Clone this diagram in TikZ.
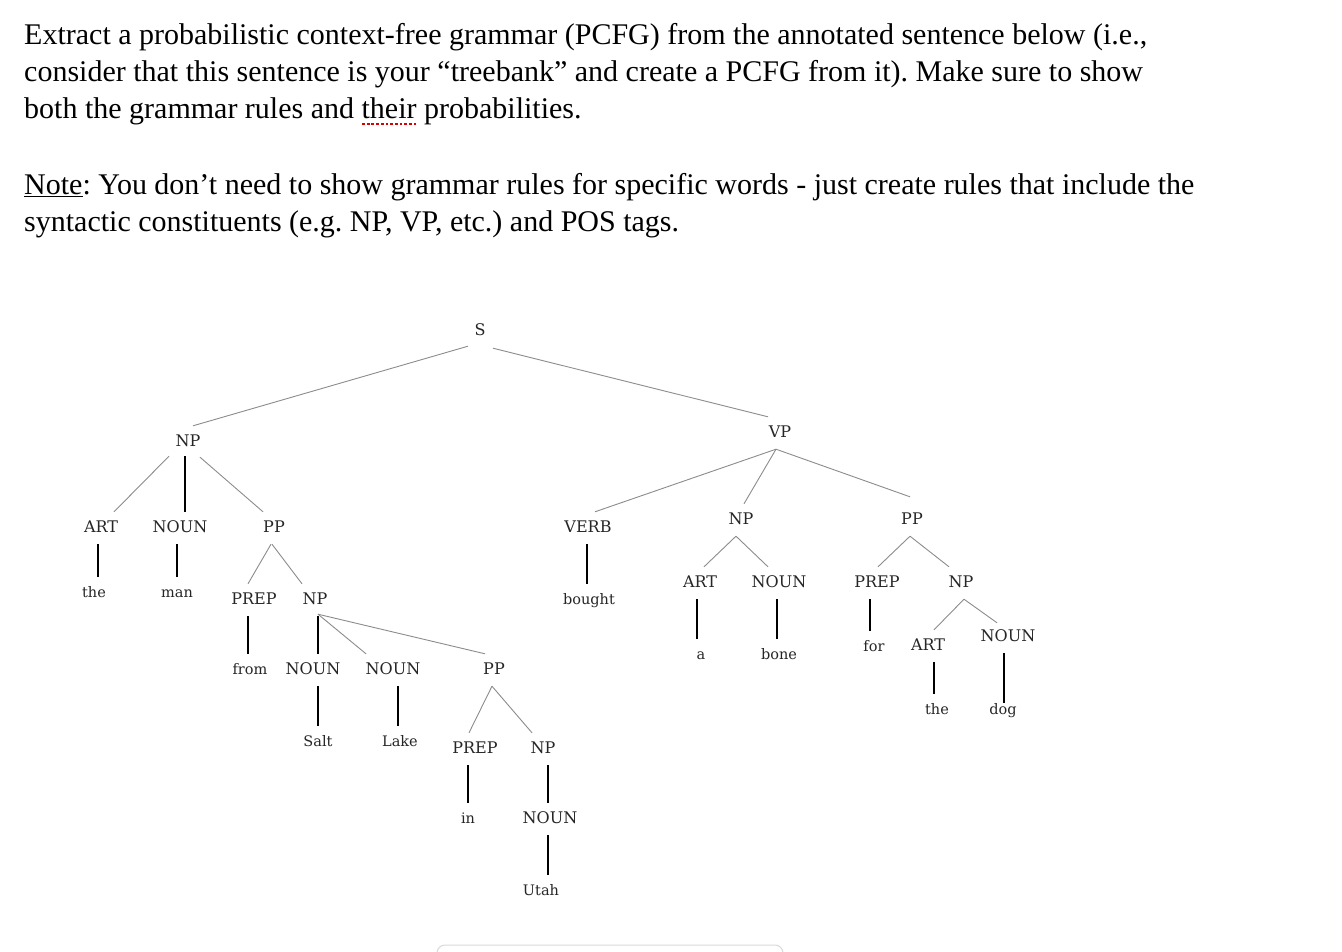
\documentclass[tikz,border=0pt]{standalone}
\usepackage{fontspec}
\setmainfont{Liberation Serif}
\newfontfamily\treefont{DejaVu Serif}
\usetikzlibrary{calc}
\newcommand\vconn[4]{\draw[vline] ($(#1.south)+(#3,0)$) -- ($(#1.south |- #2.north)+(#3,#4)$);}
\begin{document}
\frenchspacing
\begin{tikzpicture}[x=1pt,y=-1pt,
  lab/.style={font=\treefont\fontsize{16}{16}\selectfont, text height=12pt, text depth=3pt, inner xsep=0pt, inner ysep=8.5pt, text=black!85},
  wrd/.style={lab, font=\treefont\fontsize{14.5}{14.5}\selectfont},
  dline/.style={draw=black!45, line width=0.9pt},
  vline/.style={draw=black, line width=1.3pt},
  para/.style={anchor=base west, inner sep=0pt, font=\fontsize{30}{37.5}\selectfont}]
\fill[white] (0,0) rectangle (1342,952);
\useasboundingbox (0,0) rectangle (1342,952);

% question text
\node[para] (l1) at (24,45) {Extract a probabilistic context-free grammar (PCFG) from the annotated sentence below (i.e.,};
\node[para] (l2) at (24,82) {consider that this sentence is your “treebank” and create a PCFG from it). Make sure to show};
\node[para] (l3) at (24,119) {both the grammar rules and their probabilities.};
\node[para] (l4) at (24,195) {\underline{Note}: You don’t need to show grammar rules for specific words - just create rules that include the};
\node[para] (l5) at (24,232) {syntactic constituents (e.g. NP, VP, etc.) and POS tags.};
\draw[red!85!black, line width=2.8pt, dash pattern=on 2.8pt off 1.9pt] (362,124) -- (416,124);

% tree nodes
\node[lab] (S) at (480,331) {S};
\node[lab] (NPa) at (188,442) {NP};
\node[lab] (VP) at (780,433) {VP};
\node[lab] (ARTa) at (101,528) {ART};
\node[lab] (NOUNa) at (180,528) {NOUN};
\node[lab] (PPa) at (274,528) {PP};
\node[wrd] (the1) at (94,593) {the};
\node[wrd] (man) at (177,593) {man};
\node[lab] (PREPa) at (254,600) {PREP};
\node[lab] (NPb) at (315,600) {NP};
\node[wrd] (from) at (250,670) {from};
\node[lab] (NOUNb) at (313,670) {NOUN};
\node[lab] (NOUNc) at (393,670) {NOUN};
\node[lab] (PPb) at (494,670) {PP};
\node[wrd] (Salt) at (318,742) {Salt};
\node[wrd] (Lake) at (400,742) {Lake};
\node[lab] (PREPb) at (475,749) {PREP};
\node[lab] (NPc) at (543,749) {NP};
\node[wrd] (in) at (468,819) {in};
\node[lab] (NOUNd) at (550,819) {NOUN};
\node[wrd] (Utah) at (541,891) {Utah};
\node[lab] (VERB) at (588,528) {VERB};
\node[wrd] (bought) at (589,600) {bought};
\node[lab] (NPd) at (741,520) {NP};
\node[lab] (PPc) at (912,520) {PP};
\node[lab] (ARTb) at (700,583) {ART};
\node[lab] (NOUNe) at (779,583) {NOUN};
\node[lab] (PREPc) at (877,583) {PREP};
\node[lab] (NPe) at (961,583) {NP};
\node[wrd] (a) at (701,655) {a};
\node[wrd] (bone) at (779,655) {bone};
\node[wrd] (for) at (874,647) {for};
\node[lab] (ARTc) at (928,646) {ART};
\node[lab] (NOUNf) at (1008,637) {NOUN};
\node[wrd] (the2) at (937,710) {the};
\node[wrd] (dog) at (1003,710) {dog};

% diagonal connectors
\draw[dline] ($(S.south)+(-12,-1)$) -- ($(NPa.north)+(5,0)$);
\draw[dline] ($(S.south)+(13,1)$) -- ($(VP.north)+(-12,0)$);
\draw[dline] ($(NPa.south)+(-19,-2)$) -- ($(ARTa.north)+(13,0)$);
\draw[vline] ($(NPa.south)+(-3,-2)$) -- ($(NOUNa.north)+(5,0)$);
\draw[dline] ($(NPa.south)+(12,-1)$) -- ($(PPa.north)+(-11,0)$);
\draw[dline] ($(PPa.south)+(-3,0)$) -- ($(PREPa.north)+(-6,0)$);
\draw[dline] ($(PPa.south)+(-2,0)$) -- ($(NPb.north)+(-13,0)$);
\draw[dline] ($(NPb.south)+(3,-2)$) -- ($(NOUNc.north)+(-27,0)$);
\draw[dline] ($(NPb.south)+(3,-2)$) -- ($(PPb.north)+(-9,0)$);
\draw[dline] ($(PPb.south)+(-2,0)$) -- ($(PREPb.north)+(-6,0)$);
\draw[dline] ($(PPb.south)+(-2,0)$) -- ($(NPc.north)+(-11,0)$);
\draw[dline] ($(VP.south)+(-4,0)$) -- ($(VERB.north)+(7,0)$);
\draw[dline] ($(VP.south)+(-4,0)$) -- ($(NPd.north)+(3,0)$);
\draw[dline] ($(VP.south)+(-4,0)$) -- ($(PPc.north)+(-2,-7)$);
\draw[dline] ($(NPd.south)+(-5,0)$) -- ($(ARTb.north)+(4,0)$);
\draw[dline] ($(NPd.south)+(-5,0)$) -- ($(NOUNe.north)+(-11,0)$);
\draw[dline] ($(PPc.south)+(-2,0)$) -- ($(PREPc.north)+(1,0)$);
\draw[dline] ($(PPc.south)+(-2,0)$) -- ($(NPe.north)+(-12,0)$);
\draw[dline] ($(NPe.south)+(3,0)$) -- ($(ARTc.north)+(6,0)$);
\draw[dline] ($(NPe.south)+(3,0)$) -- ($(NOUNf.north)+(-11,2)$);

% vertical connectors
\vconn{ARTa}{the1}{-3}{0}
\vconn{NOUNa}{man}{-3}{0}
\vconn{PREPa}{from}{-6}{0}
\vconn{NPb}{NOUNb}{3}{0}
\vconn{NOUNb}{Salt}{5}{0}
\vconn{NOUNc}{Lake}{5}{0}
\vconn{PREPb}{in}{-7}{0}
\vconn{NPc}{NOUNd}{5}{0}
\vconn{NOUNd}{Utah}{-2}{0}
\vconn{VERB}{bought}{-1}{0}
\vconn{ARTb}{a}{-3}{0}
\vconn{NOUNe}{bone}{-2}{0}
\vconn{PREPc}{for}{-7}{0}
\vconn{ARTc}{the2}{6}{0}
\vconn{NOUNf}{dog}{-4}{9}

% partial frame at the bottom
\draw[black!15, line width=1pt, rounded corners=8pt] (437,960) -- (437,945) -- (783,945) -- (783,960);
\end{tikzpicture}
\end{document}
